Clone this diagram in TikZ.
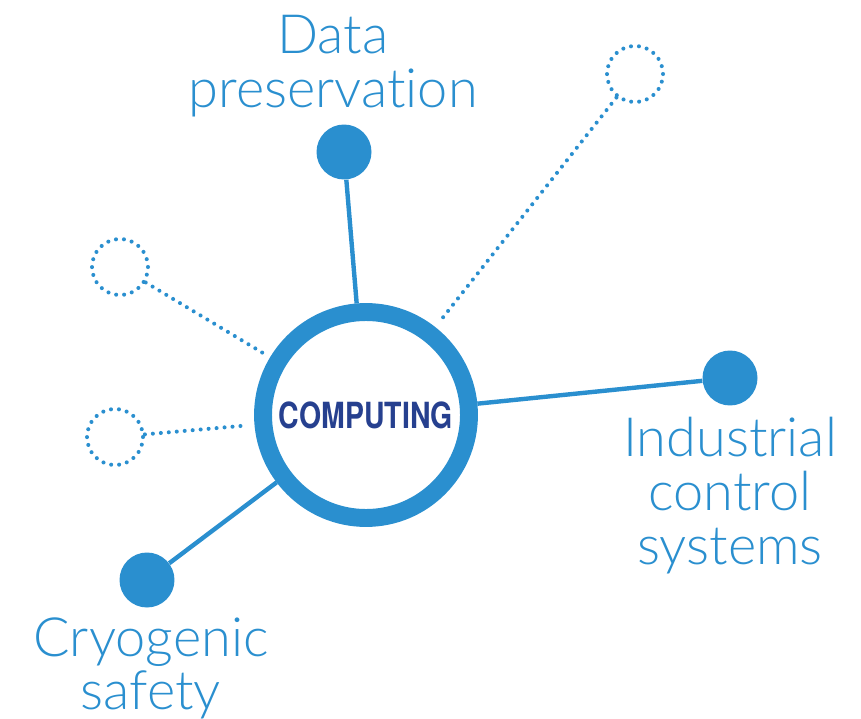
\documentclass[tikz,border=0pt]{standalone}
\usepackage{fontspec}
\setmainfont{Lato}[UprightFont=* Light, Ligatures=NoCommon]
\newfontfamily\hubfont{TeX Gyre Heros}[FakeStretch=0.79]
\usepackage{tikz}
\definecolor{ringblue}{HTML}{2A8FCF}
\definecolor{inkblue}{HTML}{26408F}
\tikzset{
    hub/.style={circle, draw=ringblue, fill=white, line width=10.2pt,
    	minimum size=4.12cm, text=inkblue,
    	font=\hubfont\bfseries\fontsize{20.5}{24}\selectfont},
    full/.style={circle, fill=ringblue, minimum size=1.1cm},
    empty/.style={circle, draw=ringblue, line width=2.3pt, line cap=round,
    	dash pattern=on 0pt off 4.55pt, minimum size=1.12cm},
    lbl/.style={align=center, text=ringblue, inner sep=0pt,
    	font=\fontsize{30.8}{30.6}\selectfont}
}
\tikzset{
    spoke/.style={draw=ringblue, line width=2.5pt},
    dotspoke/.style={draw=ringblue, line width=2.3pt, line cap=round,
    	dash pattern=on 0pt off 4.55pt, shorten >=4pt}
}

\begin{document}
\begin{tikzpicture}[x=0.02cm, y=-0.02cm]
  \useasboundingbox (0,0) rectangle (861,719);
  \node (1) [full] at (344,152) {};
  \node (2) [full] at (730,378) {};
  \node (3) [full] at (147,580) {};
  \node (4) [empty] at (635,74) {};
  \node (5) [empty] at (120,267) {};
  \node (6) [empty] at (115,437) {};
  \node (0) [hub] at (366,415) {COMPUTING};

  \draw (1) edge[spoke] (0); \draw (2) edge[spoke] (0);
  \draw (3) edge[spoke] (0);
  \draw (4) edge[dotspoke] (0); \draw (5) edge[dotspoke] (0);
  \draw (6) edge[dotspoke] (0);

  \node (7) [lbl, anchor=north] at (333,15) {Data\\preservation};
  \node (8) [lbl, anchor=north] at (730,417) {Industrial\\control\\systems};
  \node (9) [lbl, anchor=north] at (151,617) {Cryogenic\\safety};
\end{tikzpicture}
\end{document}
